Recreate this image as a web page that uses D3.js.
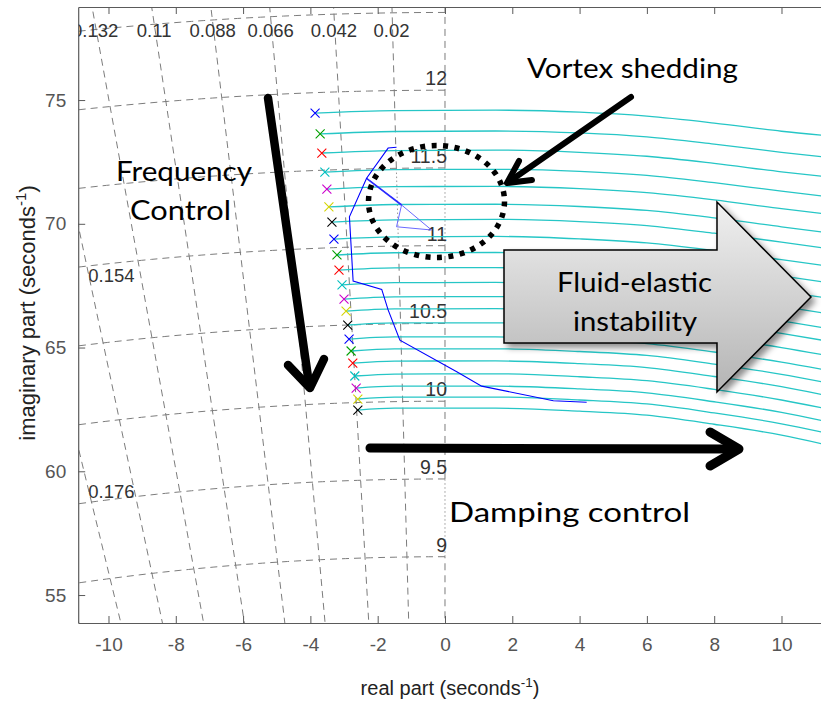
<!DOCTYPE html>
<html><head><meta charset="utf-8">
<script src="https://cdn.jsdelivr.net/npm/d3@7"></script>
<style>body{margin:0;background:#fff}svg{display:block}</style>
</head><body>
<svg id="chart" width="821" height="701"></svg>
<script>
// ---------------- DATA ----------------
const xTicks = [-10, -8, -6, -4, -2, 0, 2, 4, 6, 8, 10];
const yTicks = [55, 60, 65, 70, 75];

// sgrid: damping ratios and natural frequencies (Hz)
const zetas = [0, 0.02, 0.042, 0.066, 0.088, 0.11, 0.132, 0.154, 0.176, 0.198];
const freqsHz = [8.5, 9, 9.5, 10, 10.5, 11, 11.5, 12, 12.5];
const topZetaLabels = ["0.132", "0.11", "0.088", "0.066", "0.042", "0.02"];
const topZetaValues = [0.132, 0.11, 0.088, 0.066, 0.042, 0.02];
const leftZetaLabels = ["0.154", "0.176"];
const leftZetaValues = [0.154, 0.176];
const freqLabels = ["9", "9.5", "10", "10.5", "11", "11.5", "12"];
const freqLabelValues = [9, 9.5, 10, 10.5, 11, 11.5, 12];
// segments of damping lines drawn dotted: [zeta, fromHz, toHz]
const dottedSegs = [[0, 11, 11.5], [0.02, 11, 11.5], [0, 9, 9.5]];

// pole start markers (x)
const crossX = [-3.86, -3.71, -3.66, -3.57, -3.51, -3.45, -3.36, -3.30, -3.21, -3.15, -3.06,
                -3.00, -2.94, -2.89, -2.85, -2.79, -2.74, -2.68, -2.64, -2.59, -2.59];
const crossY = [74.47, 73.63, 72.86, 72.09, 71.40, 70.68, 70.07, 69.38, 68.74, 68.13, 67.53,
                66.96, 66.47, 65.91, 65.34, 64.86, 64.37, 63.85, 63.36, 62.92, 62.47];
const crossColors = ["b","g","r","c","m","y","k","b","g","r","c","m","y","k","b","g","r","c","m","y","k"];

// cyan loci: y value at these x positions (after each start marker)
const locusX = [-1.5, 1.5, 4, 6, 8, 10, 11.5];
const locusY = [
  [74.57, 74.59, 74.51, 74.35, 74.07, 73.74, 73.54],
  [73.73, 73.75, 73.67, 73.51, 73.22, 72.89, 72.67],
  [72.96, 72.98, 72.89, 72.73, 72.44, 72.10, 71.88],
  [72.19, 72.20, 72.12, 71.96, 71.66, 71.32, 71.08],
  [71.50, 71.51, 71.42, 71.26, 70.97, 70.61, 70.37],
  [70.78, 70.79, 70.70, 70.54, 70.24, 69.88, 69.62],
  [70.16, 70.18, 70.09, 69.93, 69.62, 69.26, 68.98],
  [69.47, 69.49, 69.39, 69.23, 68.92, 68.55, 68.27],
  [68.83, 68.84, 68.75, 68.59, 68.27, 67.90, 67.60],
  [68.22, 68.23, 68.13, 67.97, 67.65, 67.27, 66.97],
  [67.62, 67.63, 67.53, 67.37, 67.04, 66.66, 66.34],
  [67.05, 67.06, 66.96, 66.80, 66.47, 66.08, 65.74],
  [66.56, 66.57, 66.46, 66.30, 65.97, 65.57, 65.23],
  [66.00, 66.00, 65.90, 65.74, 65.40, 65.00, 64.64],
  [65.43, 65.43, 65.32, 65.16, 64.82, 64.41, 64.05],
  [64.95, 64.95, 64.84, 64.68, 64.33, 63.92, 63.54],
  [64.45, 64.46, 64.35, 64.19, 63.83, 63.42, 63.02],
  [63.93, 63.94, 63.82, 63.66, 63.31, 62.88, 62.48],
  [63.44, 63.44, 63.33, 63.17, 62.81, 62.38, 61.96],
  [63.00, 63.00, 62.88, 62.72, 62.36, 61.92, 61.50],
  [62.55, 62.55, 62.43, 62.27, 61.90, 61.46, 61.02]
];

// blue locus (tracked mode)
const blueX = [-1.44, -1.69, -2.33, -2.84, -2.73, -1.88, -1.69, -1.34, 0.35, 1.09, 3.22, 4.21];
const blueY = [73.09, 73.06, 71.84, 70.28, 67.69, 67.35, 66.52, 65.30, 64.02, 63.44, 62.85, 62.79];
// faint branch (vortex shedding loop)
const loopX = [-2.33, -1.29, -1.44, -0.40, -1.29];
const loopY = [71.84, 70.76, 69.88, 69.75, 70.76];

// ---------------- CHART ----------------
const svg = d3.select("#chart");
const x = d3.scaleLinear().domain([-10.9, 11.4]).range([78.2, 828.6]);
const y = d3.scaleLinear().domain([53.87, 78.76]).range([623, 7]);
const colorMap = {b:"#0000ff", g:"#00a000", r:"#ff0000", c:"#00c0c0", m:"#cc00cc", y:"#d4d400", k:"#000000"};
const FONT = "'Liberation Sans', Arial, sans-serif";
const ANNOT = "Lato, 'Open Sans', sans-serif";

const defs = svg.append("defs");
defs.append("clipPath").attr("id","plotclip").append("rect")
  .attr("x", x(-10.9)).attr("y", y(78.76)).attr("width", 900).attr("height", y(53.87) - y(78.76));
const grad = defs.append("linearGradient").attr("id","gArrow").attr("x1",0).attr("y1",0).attr("x2",0).attr("y2",1);
grad.append("stop").attr("offset","0%").attr("stop-color","#f0f0f0");
grad.append("stop").attr("offset","100%").attr("stop-color","#b4b4b4");
const filt = defs.append("filter").attr("id","shadow").attr("x","-20%").attr("y","-20%").attr("width","150%").attr("height","150%");
filt.append("feDropShadow").attr("dx",4).attr("dy",4).attr("stdDeviation",3).attr("flood-color","#000").attr("flood-opacity",0.45);

const plot = svg.append("g").attr("clip-path","url(#plotclip)");
const gridG = plot.append("g").attr("fill","none").attr("stroke","#7c7c7c").attr("stroke-width",1);
const R = f => 2 * Math.PI * f;

// damping lines
zetas.forEach(z => {
  const s = Math.sqrt(1 - z * z);
  const P = r => [x(-r * z), y(r * s)];
  const segs = dottedSegs.filter(d => d[0] === z).map(d => [R(d[1]), R(d[2])]).sort((a,b)=>a[0]-b[0]);
  let r0 = 40;
  const pieces = [];
  segs.forEach(sg => { pieces.push([r0, sg[0], "dash"]); pieces.push([sg[0], sg[1], "dot"]); r0 = sg[1]; });
  pieces.push([r0, 95, "dash"]);
  pieces.forEach(p => {
    gridG.append("line")
      .attr("x1", P(p[0])[0]).attr("y1", P(p[0])[1])
      .attr("x2", P(p[1])[0]).attr("y2", P(p[1])[1])
      .attr("stroke-dasharray", p[2] === "dash" ? "7,5" : "1.5,2.5")
      .attr("stroke-width", p[2] === "dash" ? 1 : 0.8);
  });
});
// natural frequency arcs (left half plane)
const arcLine = d3.line().x(d => x(d[0])).y(d => y(d[1]));
freqsHz.forEach(f => {
  const r = R(f);
  const pts = d3.range(90, 180.01, 0.25).map(a => [r * Math.cos(a * Math.PI / 180), r * Math.sin(a * Math.PI / 180)]);
  gridG.append("path").attr("d", arcLine(pts)).attr("stroke-dasharray","7,5");
});

// grid labels
const lblG = plot.append("g").attr("font-family", FONT).attr("font-size", 18.5).attr("fill", "#333");
const topLabelY = 77.83;
topZetaLabels.forEach((t, i) => {
  const z = topZetaValues[i];
  lblG.append("text").attr("x", x(-topLabelY * z / Math.sqrt(1 - z * z)) - 1)
    .attr("y", y(topLabelY) + 7).attr("text-anchor","middle").text(t);
});
leftZetaLabels.forEach((t, i) => {
  const z = leftZetaValues[i];
  const xl = -10.6;
  lblG.append("text").attr("x", x(xl)).attr("y", y(-xl * Math.sqrt(1 - z * z) / z) + 9)
    .attr("text-anchor","start").text(t);
});
freqLabels.forEach((t, i) => {
  lblG.append("text").attr("x", x(0) + 2).attr("y", y(R(freqLabelValues[i])) - 5)
    .attr("text-anchor","end").attr("font-size",19.5).text(t);
});

// cyan loci
const lineGen = d3.line().x(d => x(d[0])).y(d => y(d[1])).curve(d3.curveMonotoneX);
locusY.forEach((row, i) => {
  const pts = [[crossX[i], crossY[i]]].concat(locusX.map((xv, j) => [xv, row[j]]));
  plot.append("path").attr("d", lineGen(pts)).attr("fill","none")
    .attr("stroke", "#26c6c6").attr("stroke-width", 1.3);
});

// blue loci
const polyGen = d3.line().x(d => x(d[0])).y(d => y(d[1]));
plot.append("path").attr("d", polyGen(loopX.map((v, i) => [v, loopY[i]])))
  .attr("fill","none").attr("stroke","#6a6aff").attr("stroke-width",1);
plot.append("path").attr("d", polyGen([[loopX[0],loopY[0]],[loopX[1],loopY[1]]]))
  .attr("fill","none").attr("stroke","#2a2aff").attr("stroke-width",1.6);
plot.append("path").attr("d", polyGen(blueX.map((v, i) => [v, blueY[i]])))
  .attr("fill","none").attr("stroke","#0000ff").attr("stroke-width",1.1);

// crosses
crossX.forEach((cx, i) => {
  plot.append("path").attr("transform", `translate(${x(cx)},${y(crossY[i])})`)
    .attr("d","M-4.5,-4.5L4.5,4.5M-4.5,4.5L4.5,-4.5")
    .attr("stroke", colorMap[crossColors[i]]).attr("stroke-width", 1.1).attr("fill","none");
});

// ---------------- AXES ----------------
const axCol = "#5a5a5a";
const xAxis = svg.append("g").attr("transform", `translate(0,${y(53.87)})`)
  .call(d3.axisBottom(x).tickValues(xTicks).tickSizeInner(-7).tickSizeOuter(0).tickPadding(15).tickFormat(d => String(d)));
const xTop = svg.append("g").attr("transform", `translate(0,${y(78.76)})`)
  .call(d3.axisTop(x).tickValues(xTicks).tickSizeInner(-7).tickSizeOuter(0).tickFormat(""));
const yAxis = svg.append("g").attr("transform", `translate(${x(-10.9)},0)`)
  .call(d3.axisLeft(y).tickValues(yTicks).tickSizeInner(-7).tickSizeOuter(0).tickPadding(12).tickFormat(d => String(d)));
[xAxis, xTop, yAxis].forEach(g => {
  g.select(".domain").attr("stroke", axCol).attr("stroke-width", 1.2);
  g.selectAll(".tick line").attr("stroke", axCol);
  g.selectAll(".tick text").attr("fill", "#555").attr("font-family", FONT).attr("font-size", 19);
});

// axis titles
const xt = svg.append("text").attr("x", 450).attr("y", 695).attr("text-anchor","middle")
  .attr("font-family", FONT).attr("font-size", 20).attr("fill","#222");
xt.append("tspan").text("real part (seconds");
xt.append("tspan").attr("dy", -8).attr("font-size", 13.5).text("-1");
xt.append("tspan").attr("dy", 8).text(")");
const yt = svg.append("text").attr("transform","translate(35,313) rotate(-90)").attr("text-anchor","middle")
  .attr("font-family", FONT).attr("font-size", 22).attr("fill","#222");
yt.append("tspan").text("imaginary part (seconds");
yt.append("tspan").attr("dy", -9).attr("font-size", 15).text("-1");
yt.append("tspan").attr("dy", 9).text(")");

// ---------------- ANNOTATIONS ----------------
const ann = svg.append("g");
// block arrow
ann.append("path").attr("d","M504,250 L717,250 L717,202 L811,297 L717,392 L717,343 L504,343 Z")
  .attr("fill","url(#gArrow)").attr("stroke","#000").attr("stroke-width",1.5).attr("filter","url(#shadow)");
const tx = (t, xx, yy, len, size) => ann.append("text").attr("x", xx).attr("y", yy)
  .attr("font-family", ANNOT).attr("font-size", size).attr("fill","#000")
  .attr("textLength", len).attr("lengthAdjust","spacingAndGlyphs").text(t);
tx("Fluid-elastic", 557, 292, 155, 27);
tx("instability", 573, 331, 124, 27);
tx("Vortex shedding", 527, 78, 211, 27);
tx("Frequency", 116, 181, 136, 27);
tx("Control", 130, 220, 101, 27);
tx("Damping control", 449, 522, 241, 27);

// dotted ellipse
ann.append("ellipse").attr("cx",436.5).attr("cy",201.5).attr("rx",68).attr("ry",56)
  .attr("fill","none").attr("stroke","#000").attr("stroke-width",5.5).attr("stroke-dasharray","5,6.5");

// arrows
const arrow = (pts, w) => ann.append("path").attr("d", pts).attr("fill","none").attr("stroke","#000")
  .attr("stroke-width", w).attr("stroke-linecap","round").attr("stroke-linejoin","round");
arrow("M268,98 L309,384", 8.5);
arrow("M288,365 L310,388 L324,359", 8.5);
arrow("M370,448 L736,449", 9);
arrow("M710,432 L739,449 L710,466", 9);
arrow("M631,97 L510,181", 6);
arrow("M519,161 L507,183 L532,180", 6);
</script>
</body></html>
